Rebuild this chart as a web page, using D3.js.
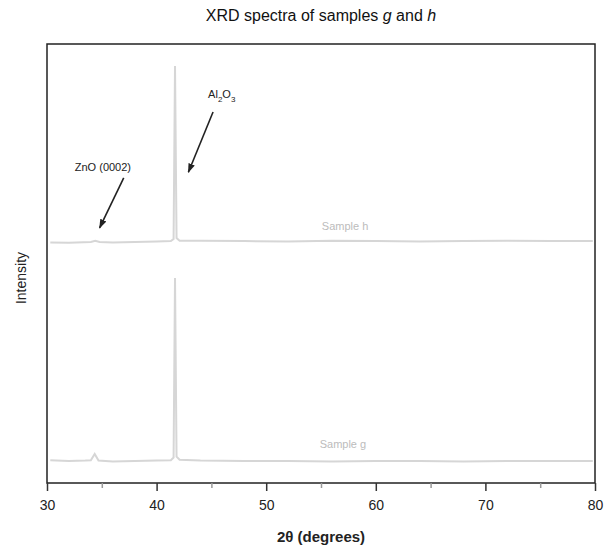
<!DOCTYPE html>
<html>
<head>
<meta charset="utf-8">
<script src="https://cdn.jsdelivr.net/npm/d3@7"></script>
<style>
  body { margin: 0; background: #fff; }
  svg { font-family: "Liberation Sans", Arial, sans-serif; }
  .tick text { font-size: 14px; fill: #222; }
</style>
</head>
<body>
<div id="chart"></div>
<script>
// 2-theta positions (degrees) and intensities (arb. units)
const thetaG = [30.3, 32, 33.5, 34.0, 34.35, 34.7, 36, 38, 40, 41.3, 41.55, 41.68, 41.82, 42.1, 44, 48, 52, 56, 60, 64, 68, 72, 76, 79.8];
const intensityG = [52, 50, 51, 52, 66, 51, 49, 50, 51, 52, 58, 467, 60, 53, 51, 50, 50, 49, 50, 50, 49, 50, 50, 50];

const thetaH = [30.3, 32, 34.0, 34.4, 34.8, 36, 38, 40, 41.3, 41.55, 41.68, 41.82, 42.1, 44, 48, 52, 56, 60, 64, 68, 72, 76, 79.8];
const intensityH = [548, 547, 549, 552, 549, 548, 549, 550, 551, 556, 950, 558, 552, 552, 551, 550, 552, 551, 550, 551, 552, 551, 551];

const majorTicks = [30, 40, 50, 60, 70, 80];
const minorTicks = [35, 45, 55, 65, 75];

const width = 605, height = 549;
const margin = {top: 44, right: 10, bottom: 66, left: 47};

const svg = d3.select("#chart").append("svg")
  .attr("width", width)
  .attr("height", height);

const x = d3.scaleLinear().domain([30, 80]).range([margin.left, width - margin.right]);
const y = d3.scaleLinear().domain([0, 1000]).range([height - margin.bottom, margin.top]);

svg.append("defs").append("marker")
  .attr("id", "head")
  .attr("viewBox", "0 0 10 10")
  .attr("refX", 9).attr("refY", 5)
  .attr("markerWidth", 6).attr("markerHeight", 6)
  .attr("orient", "auto")
  .append("path")
  .attr("d", "M0,1.5 L10,5 L0,8.5 Z")
  .attr("fill", "#222");

// spectra
const line = d3.line().x(d => x(d[0])).y(d => y(d[1]));
const series = [
  {name: "Sample g", pts: d3.zip(thetaG, intensityG), lx: 57.0, ly: 80},
  {name: "Sample h", pts: d3.zip(thetaH, intensityH), lx: 57.2, ly: 576}
];

svg.selectAll("path.spec")
  .data(series)
  .enter()
  .append("path")
  .attr("class", "spec")
  .attr("d", d => line(d.pts))
  .attr("fill", "none")
  .attr("stroke", "#d6d6d6")
  .attr("stroke-width", 2);

svg.selectAll("text.slabel")
  .data(series)
  .enter()
  .append("text")
  .attr("class", "slabel")
  .attr("x", d => x(d.lx))
  .attr("y", d => y(d.ly))
  .attr("text-anchor", "middle")
  .style("font-size", "11px")
  .style("fill", "#bcbcbc")
  .text(d => d.name);

// frame
svg.append("rect")
  .attr("x", x(30)).attr("y", y(1000))
  .attr("width", x(80) - x(30)).attr("height", y(0) - y(1000))
  .attr("fill", "none")
  .attr("stroke", "#222")
  .attr("stroke-width", 1.5);

// x axis
const xAxis = svg.append("g")
  .attr("transform", `translate(0, ${y(0)})`)
  .call(d3.axisBottom(x).tickValues(majorTicks).tickSize(8).tickPadding(9));
xAxis.select(".domain").remove();
xAxis.selectAll(".tick line").attr("stroke", "#333").attr("stroke-width", 1.5);

const xMinor = svg.append("g")
  .attr("transform", `translate(0, ${y(0)})`)
  .call(d3.axisBottom(x).tickValues(minorTicks).tickSize(5).tickFormat(""));
xMinor.select(".domain").remove();
xMinor.selectAll(".tick line").attr("stroke", "#999").attr("stroke-width", 1.5);

// annotations
const arrows = [
  {from: [37.0, 695], to: [34.8, 581]},
  {from: [45.15, 845], to: [42.9, 708]}
];
svg.selectAll("line.arrow")
  .data(arrows)
  .enter()
  .append("line")
  .attr("class", "arrow")
  .attr("x1", d => x(d.from[0])).attr("y1", d => y(d.from[1]))
  .attr("x2", d => x(d.to[0])).attr("y2", d => y(d.to[1]))
  .attr("stroke", "#222")
  .attr("stroke-width", 1.6)
  .attr("marker-end", "url(#head)");

svg.append("text")
  .attr("x", x(35.1)).attr("y", y(711))
  .attr("text-anchor", "middle")
  .style("font-size", "11px")
  .style("fill", "#222")
  .text("ZnO (0002)");

const al = svg.append("text")
  .attr("x", x(44.7)).attr("y", y(878))
  .style("font-size", "11px")
  .style("fill", "#222");
al.append("tspan").text("Al");
al.append("tspan").attr("dy", 4).style("font-size", "8px").text("2");
al.append("tspan").attr("dy", -4).text("O");
al.append("tspan").attr("dy", 4).style("font-size", "8px").text("3");

// titles
const title = svg.append("text")
  .attr("x", (x(30) + x(80)) / 2).attr("y", 21)
  .attr("text-anchor", "middle")
  .style("font-size", "16px")
  .style("fill", "#111");
title.append("tspan").text("XRD spectra of samples ");
title.append("tspan").style("font-style", "italic").text("g");
title.append("tspan").text(" and ");
title.append("tspan").style("font-style", "italic").text("h");

svg.append("text")
  .attr("x", (x(30) + x(80)) / 2).attr("y", 542)
  .attr("text-anchor", "middle")
  .style("font-size", "15px")
  .style("font-weight", "bold")
  .style("fill", "#222")
  .text("2θ (degrees)");

svg.append("text")
  .attr("transform", "translate(26, 278) rotate(-90)")
  .attr("text-anchor", "middle")
  .style("font-size", "14px")
  .style("fill", "#222")
  .text("Intensity");
</script>
</body>
</html>
